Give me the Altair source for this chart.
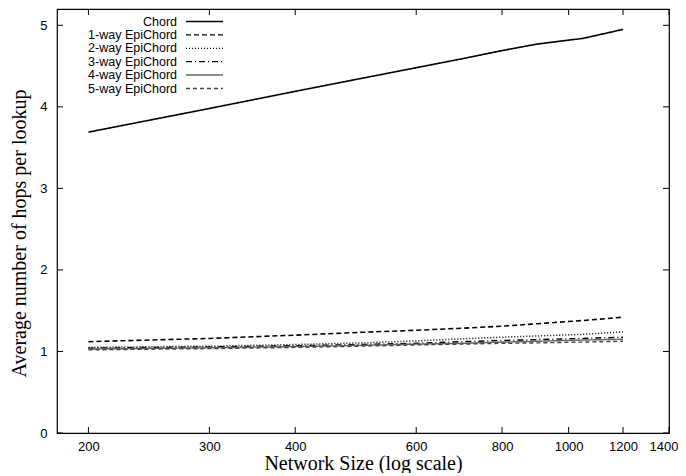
import altair as alt
import pandas as pd

# ---- data ----
sizes = [200, 300, 400, 500, 600, 700, 800, 900, 1050, 1200]
series = ["Chord", "1-way EpiChord", "2-way EpiChord", "3-way EpiChord",
          "4-way EpiChord", "5-way EpiChord"]
chord = [3.69, 3.98, 4.19, 4.35, 4.48, 4.59, 4.69, 4.77, 4.84, 4.95]
way1 = [1.12, 1.16, 1.20, 1.235, 1.26, 1.285, 1.31, 1.34, 1.38, 1.42]
way2 = [1.05, 1.065, 1.085, 1.105, 1.13, 1.155, 1.175, 1.19, 1.21, 1.24]
way3 = [1.04, 1.055, 1.07, 1.085, 1.10, 1.12, 1.135, 1.145, 1.16, 1.175]
way4 = [1.03, 1.045, 1.06, 1.075, 1.09, 1.10, 1.115, 1.125, 1.14, 1.15]
way5 = [1.02, 1.035, 1.05, 1.065, 1.08, 1.09, 1.10, 1.105, 1.115, 1.125]
x_ticks = [200, 300, 400, 600, 800, 1000, 1200, 1400]
y_ticks = [0, 1, 2, 3, 4, 5]

# ---- styles ----
colors = ["#000000", "#000000", "#000000", "#000000", "#666666", "#444444"]
dashes = [[1, 0], [5, 3], [1, 2], [6, 3, 1, 3], [1, 0], [4, 3]]
widths = [1.6, 1.4, 1.3, 1.3, 1.5, 1.3]

rows = []
for name, vals in zip(series, [chord, way1, way2, way3, way4, way5]):
    for s, v in zip(sizes, vals):
        rows.append({"size": s, "hops": v, "series": name})
df = pd.DataFrame(rows)

W, H = 612, 424
TICK = 6
xscale = alt.Scale(type="log", domain=[180, 1400], nice=False)
yscale = alt.Scale(domain=[0, 5.2], nice=False, zero=False)

xaxis = alt.Axis(values=x_ticks, format="d", title="Network Size (log scale)",
                 ticks=False, tickSize=0, domain=False, grid=False,
                 labelPadding=7, labelFlush=True, labelFlushOffset=9,
                 labelOverlap=False,
                 titleBaseline="alphabetic", titleY=36)
yaxis = alt.Axis(values=y_ticks, format="d",
                 title="Average number of hops per lookup",
                 ticks=False, tickSize=0, domain=False, grid=False,
                 labelPadding=10, labelFlush=False, labelOverlap=False,
                 titleBaseline="middle", titleX=-38, titleY=224)

lines = alt.Chart(df).mark_line(clip=True).encode(
    x=alt.X("size:Q", scale=xscale, axis=xaxis),
    y=alt.Y("hops:Q", scale=yscale, axis=yaxis),
    color=alt.Color("series:N", scale=alt.Scale(domain=series, range=colors), legend=None),
    strokeDash=alt.StrokeDash("series:N", scale=alt.Scale(domain=series, range=dashes), legend=None),
    strokeWidth=alt.StrokeWidth("series:N", scale=alt.Scale(domain=series, range=widths), legend=None),
)

xt = pd.DataFrame({"xt": x_ticks})
yt = pd.DataFrame({"yt": y_ticks})
tick_style = dict(color="black", strokeWidth=1)

bx = alt.Chart(xt).mark_rule(**tick_style).encode(
    x=alt.X("xt:Q", scale=xscale, axis=xaxis), y=alt.value(H - TICK), y2=alt.value(H))
tx = alt.Chart(xt).mark_rule(**tick_style).encode(
    x=alt.X("xt:Q", scale=xscale, axis=xaxis), y=alt.value(0), y2=alt.value(TICK))
ly = alt.Chart(yt).mark_rule(**tick_style).encode(
    y=alt.Y("yt:Q", scale=yscale, axis=yaxis), x=alt.value(0), x2=alt.value(TICK))
ry = alt.Chart(yt).mark_rule(**tick_style).encode(
    y=alt.Y("yt:Q", scale=yscale, axis=yaxis), x=alt.value(W - TICK), x2=alt.value(W))

layers = [lines, bx, tx, ly, ry]

# legend (labels right-aligned, sample line on the right)
for i, name in enumerate(series):
    yy = 12.5 + i * 13.4
    d = pd.DataFrame({"label": [name]})
    layers.append(alt.Chart(d).mark_text(align="right", baseline="middle",
                                         font="Liberation Sans", fontSize=12.5,
                                         color="black").encode(
        text="label:N", x=alt.value(120), y=alt.value(yy)))
    layers.append(alt.Chart(d).mark_rule(color=colors[i], strokeDash=dashes[i],
                                         strokeWidth=widths[i]).encode(
        x=alt.value(129), x2=alt.value(166), y=alt.value(yy)))

# small dark mark above the frame seen in the reference
layers.append(alt.Chart(pd.DataFrame({"a": [0]})).mark_rule(color="black", strokeWidth=3).encode(
    x=alt.value(102), y=alt.value(-9), y2=alt.value(-1)))

chart = alt.layer(*layers).properties(
    width=W, height=H,
    autosize=alt.AutoSizeParams(type="none"),
    padding={"left": 49, "top": 1, "right": 9, "bottom": 40},
).configure_view(
    stroke="black", strokeWidth=1.2
).configure_axis(
    labelFont="Liberation Sans", labelFontSize=13, labelColor="black",
    titleFont="Liberation Serif", titleFontSize=20, titleFontWeight="normal",
    titleColor="black",
)

chart.save("out.html", embed_options={"renderer": "svg", "actions": False})
